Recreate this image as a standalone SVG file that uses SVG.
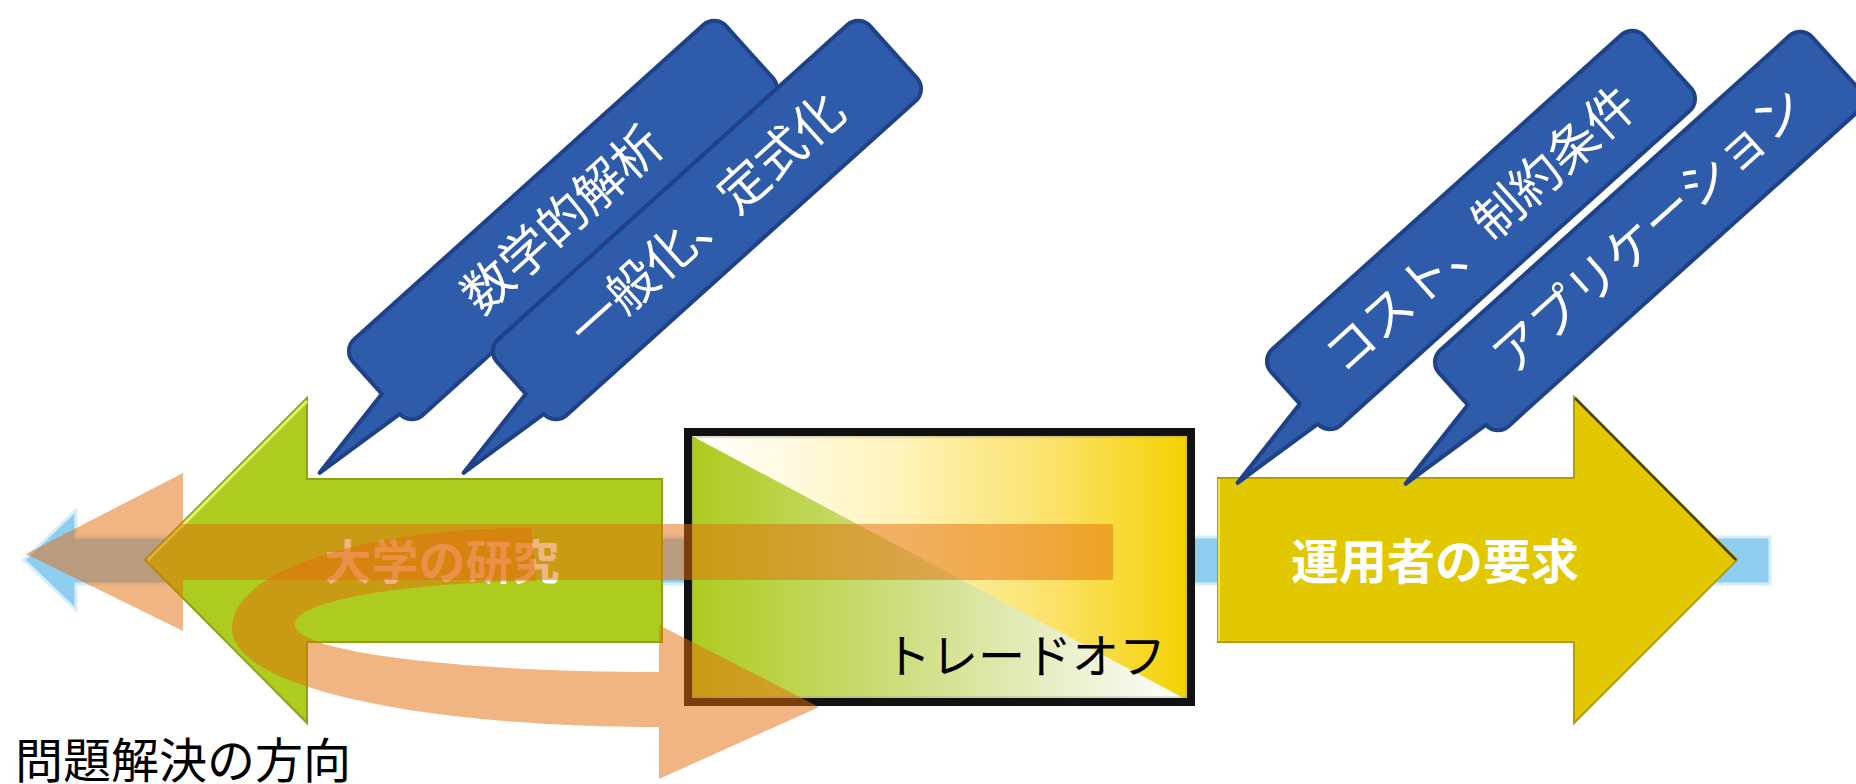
<svg xmlns="http://www.w3.org/2000/svg" width="1856" height="784" viewBox="0 0 1856 784">
<defs>
  <style>
    .jp { font-family: "Noto Sans CJK JP", "Noto Sans", sans-serif; }
    .callout { fill: #2E5BAA; stroke: #1E4187; stroke-width: 4; stroke-linejoin: round; }
    .ctext { fill: #FFFFFF; font-size: 50px; text-anchor: middle; font-family: "Noto Sans CJK JP", "Noto Sans", sans-serif; }
    .orange { fill: #E46C0A; fill-opacity: 0.5; }
    .bold { font-weight: bold; fill: #FFFFFF; text-anchor: middle; }
  </style>
  <linearGradient id="boxGrad" x1="692" y1="0" x2="1191" y2="0" gradientUnits="userSpaceOnUse">
    <stop offset="0" stop-color="#FFFFFF"/>
    <stop offset="0.4" stop-color="#FFF4BE"/>
    <stop offset="0.72" stop-color="#FBE26A"/>
    <stop offset="1" stop-color="#F4D200"/>
  </linearGradient>
  <linearGradient id="triGrad" x1="692" y1="0" x2="1191" y2="0" gradientUnits="userSpaceOnUse">
    <stop offset="0" stop-color="#AECB1F"/>
    <stop offset="0.45" stop-color="#D0DF86"/>
    <stop offset="0.75" stop-color="#EAF0CC"/>
    <stop offset="1" stop-color="#FFFFFF"/>
  </linearGradient>
  <path id="callShape" d="M -235,-51 H 235 A 16,16 0 0 1 251,-35 V 35 A 16,16 0 0 1 235,51 H -235 A 16,16 0 0 1 -251,35 L -350,25 L -251,8 V -35 A 16,16 0 0 1 -235,-51 Z"/>
</defs>

<g id="direction-arrow">
  <polygon points="24,560 76,510 76,537 1770,537 1770,584 76,584 76,610" fill="#8ECDF0" stroke="#D6EDFA" stroke-width="3"/>
</g>

<g id="university-research">
  <polygon points="145,560 307,398 307,479 662,479 662,642 307,642 307,723" fill="#AECB1F" stroke="#8AA416" stroke-width="2"/>
  <polyline points="148,560 307,401" fill="none" stroke="#E2F268" stroke-width="3"/>
  <text class="jp bold" x="442" y="579" font-size="47">大学の研究</text>
</g>

<g id="user-requirements">
  <polygon points="1218,478 1574,478 1574,397 1737,560 1574,723 1574,642 1218,642" fill="#E1C800" stroke="#B59C00" stroke-width="2"/>
  <polyline points="1575,398 1736,560" fill="none" stroke="#4E4200" stroke-width="2.5"/>
  <polyline points="1219,641 1219,479" fill="none" stroke="#F6E24A" stroke-width="2"/>
  <text class="jp bold" x="1435" y="579" font-size="48">運用者の要求</text>
</g>

<g id="tradeoff">
  <rect x="688" y="432" width="503" height="270" fill="url(#boxGrad)"/>
  <polygon points="692,436 692,702 1191,702" fill="url(#triGrad)"/>
  <rect x="688" y="432" width="503" height="270" fill="none" stroke="#111111" stroke-width="8"/>
  <rect x="693" y="437" width="493" height="260" fill="none" stroke="#9A9A9A" stroke-width="1" opacity="0.6"/>
  <text class="jp" x="1025" y="673" font-size="47" fill="#000000" text-anchor="middle">トレードオフ</text>
</g>

<g id="connectors">
  <polygon class="orange" points="26,554 183,473 183,524 1113,524 1113,580 183,580 183,631"/>
  <path class="orange" d="M 531,528 C 360,528 232,572 232,628 C 232,690 430,727 659,727 L 659,779 L 819,707 L 659,625 L 659,672 C 460,672 295,652 295,625 C 295,598 420,582 536,581 Z"/>
</g>

<g id="callout-math" transform="translate(563,220) rotate(-42)">
  <use href="#callShape" class="callout"/>
  <text class="ctext" x="0" y="17">数学的解析</text>
</g>
<g id="callout-generalize" transform="translate(707,220) rotate(-42)">
  <use href="#callShape" class="callout"/>
  <text class="ctext" x="0" y="17">一般化、定式化</text>
</g>
<g id="callout-cost" transform="translate(1481,230) rotate(-42)">
  <use href="#callShape" class="callout"/>
  <text class="ctext" x="0" y="17">コスト、制約条件</text>
</g>
<g id="callout-application" transform="translate(1649,231) rotate(-42)">
  <use href="#callShape" class="callout"/>
  <text class="ctext" x="0" y="17">アプリケーション</text>
</g>

<g id="label-direction">
  <text class="jp" x="15" y="778" font-size="48" fill="#000000">問題解決の方向</text>
</g>
</svg>
